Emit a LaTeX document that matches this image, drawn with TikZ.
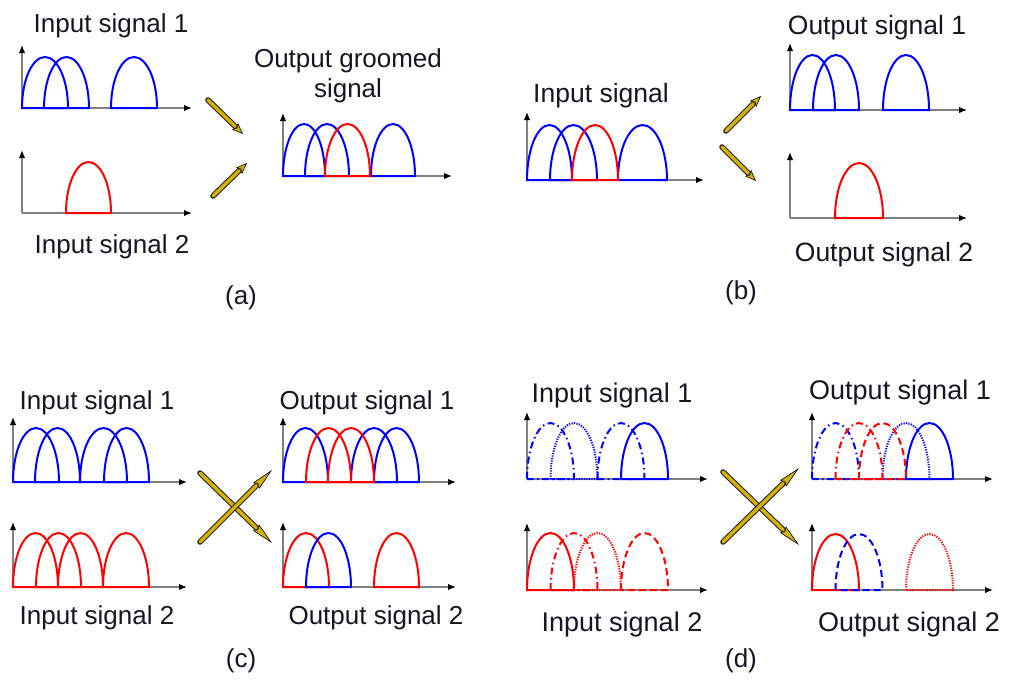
\documentclass[tikz,border=0pt]{standalone}
\usepackage{fontspec}
\setmainfont{Liberation Sans}
\usetikzlibrary{arrows.meta,calc}

\definecolor{gold}{RGB}{214,178,0}
\definecolor{axisgray}{RGB}{128,128,128}
\definecolor{inkblack}{RGB}{22,22,34}

% One spectral slot: half ellipse closed by its base line.
% [style]{left x}{right x}{base y}{top y}
\newcommand\signalarch[5][]{%
  \pgfmathsetmacro\sgL{#2}%
  \pgfmathsetmacro\sgR{#3}%
  \pgfmathsetmacro\sgC{(#2+#3)/2}%
  \pgfmathsetmacro\sgW{(#3-#2)/2*0.5523}%
  \pgfmathsetmacro\sgH{(#4-#5)*0.5523}%
  \draw[#1] (\sgL,#4) .. controls (\sgL,#4-\sgH) and (\sgC-\sgW,#5) .. (\sgC,#5)
    .. controls (\sgC+\sgW,#5) and (\sgR,#4-\sgH) .. (\sgR,#4) -- cycle;}

% Pair of axes: {name}{x}{y}{height}{length}
\newcommand\plotaxes[5]{%
  \coordinate (#1) at (#2,#3);
  \draw[axis] (#1) -- ++(0,-#4);
  \draw[axis] (#1) -- ++(#5,0);}

% Golden arrow between two named coordinates: {from}{to}{head length}
\newcommand\goldarrow[3]{%
  \draw[line width=0.6pt, draw=black,
        -{Stealth[length=#3, width=8.5pt, inset=1pt, fill=gold]}] ($(#1)!0.5!(#2)$) -- (#2);
  \draw[line width=5.6pt, draw=black!85, line cap=round, shorten >=#3] (#1) -- (#2);
  \draw[line width=3.4pt, draw=gold, line cap=round, shorten >=#3] (#1) -- (#2);}

\begin{document}
\begin{tikzpicture}[x=1pt, y=-1pt,
  axis/.style={draw=axisgray, line width=1.4pt, -{Latex[length=8pt, width=6.5pt, color=black]}},
  bl/.style={draw=blue, line width=2pt},
  rd/.style={draw=red, line width=2pt},
  dsh/.style={dash pattern=on 7pt off 4pt},
  dsd/.style={dash pattern=on 7pt off 3.5pt on 1.5pt off 3.5pt},
  dtt/.style={dash pattern=on 1.2pt off 1.3pt},
  lbl/.style={text=inkblack, inner sep=0pt, anchor=base, font=\fontsize{26}{30}\selectfont},
  lblb/.style={lbl, font=\fontsize{26.5}{30}\selectfont},
  lbld/.style={lbl, font=\fontsize{27}{30}\selectfont},
  tag/.style={text=inkblack, inner sep=0pt, font=\fontsize{26}{30}\selectfont}]

\useasboundingbox (0,0) rectangle (1009,686);

% ---------------- (a) grooming ----------------
\plotaxes{aIn1}{22}{108}{63}{170}
\signalarch[bl]{22}{68}{108}{57}
\signalarch[bl]{44}{89}{108}{57}
\signalarch[bl]{111}{157}{108}{57}
\node[lbl] (aT1) at (111,32) {Input signal 1};

\plotaxes{aIn2}{22}{213}{63}{170}
\signalarch[rd]{66}{111}{213}{162}
\node[lbl] (aT2) at (112,253) {Input signal 2};

\plotaxes{aOut}{283}{176}{63}{169}
\signalarch[bl]{283}{325}{176}{124}
\signalarch[bl]{305}{349}{176}{124}
\signalarch[bl]{371}{415}{176}{124}
\signalarch[rd]{325}{370}{176}{124}
\node[lbl, align=center] (aT3) at (348,97) {Output groomed\\signal};

\coordinate (aA1s) at (208,100); \coordinate (aA1e) at (243,134);
\coordinate (aA2s) at (213,196); \coordinate (aA2e) at (247,163);
\goldarrow{aA1s}{aA1e}{11pt}
\goldarrow{aA2s}{aA2e}{11pt}
\node[tag] (aTag) at (241,298) {(a)};

% ---------------- (b) de-grooming ----------------
\plotaxes{bIn}{527}{180}{68}{177}
\signalarch[bl]{527}{572}{180}{125}
\signalarch[bl]{550}{597}{180}{125}
\signalarch[bl]{618}{667}{180}{125}
\signalarch[rd]{572}{618}{180}{125}
\node[lblb] (bT1) at (601,102) {Input signal};

\plotaxes{bOut1}{790}{110}{67}{177}
\signalarch[bl]{790}{835}{110}{55}
\signalarch[bl]{813}{859}{110}{55}
\signalarch[bl]{883}{929}{110}{55}
\node[lblb] (bT2) at (877,34) {Output signal 1};

\plotaxes{bOut2}{790}{218}{66}{177}
\signalarch[rd]{835}{883}{218}{163}
\node[lblb] (bT3) at (884,261) {Output signal 2};

\coordinate (bA1s) at (726,131); \coordinate (bA1e) at (761,96);
\coordinate (bA2s) at (722,147); \coordinate (bA2e) at (756,181);
\goldarrow{bA1s}{bA1e}{11pt}
\goldarrow{bA2s}{bA2e}{11pt}
\node[tag] (bTag) at (741,293) {(b)};

% ---------------- (c) switching ----------------
\plotaxes{cIn1}{13}{482}{65}{174}
\signalarch[bl]{13}{59}{482}{428}
\signalarch[bl]{35}{80}{482}{428}
\signalarch[bl]{80}{127}{482}{428}
\signalarch[bl]{104}{149}{482}{428}
\node[lbl] (cT1) at (97,409) {Input signal 1};

\plotaxes{cIn2}{13}{587}{65}{174}
\signalarch[rd]{13}{58}{587}{533}
\signalarch[rd]{36}{81}{587}{533}
\signalarch[rd]{58}{103}{587}{533}
\signalarch[rd]{103}{149}{587}{533}
\node[lbl] (cT2) at (97,624) {Input signal 2};

\plotaxes{cOut1}{283}{482}{65}{173}
\signalarch[bl]{283}{328}{482}{428}
\signalarch[bl]{351}{397}{482}{428}
\signalarch[bl]{374}{419}{482}{428}
\signalarch[rd]{306}{351}{482}{428}
\signalarch[rd]{328}{374}{482}{428}
\node[lbl] (cT3) at (367,409) {Output signal 1};

\plotaxes{cOut2}{283}{587}{65}{173}
\signalarch[rd]{283}{329}{587}{533}
\signalarch[rd]{374}{419}{587}{533}
\signalarch[bl]{306}{351}{587}{533}
\node[lbl] (cT4) at (376,624) {Output signal 2};

\coordinate (cX1s) at (200,473); \coordinate (cX1e) at (272,543);
\coordinate (cX2s) at (200,542); \coordinate (cX2e) at (272,470);
\goldarrow{cX1s}{cX1e}{22pt}
\goldarrow{cX2s}{cX2e}{22pt}
\node[tag] (cTag) at (241,661) {(c)};

% ---------------- (d) switching with individual channels ----------------
\plotaxes{dIn1}{527}{479}{67}{181}
\signalarch[bl,dsd]{527}{574}{479}{423}
\signalarch[bl,dtt]{550.5}{597.5}{479}{423}
\signalarch[bl,dsd]{597.5}{644.5}{479}{423}
\signalarch[bl]{621}{668}{479}{423}
\node[lbld] (dT1) at (612,402) {Input signal 1};

\plotaxes{dIn2}{527}{590}{67}{181}
\signalarch[rd]{527}{574}{590}{533}
\signalarch[rd,dsd]{550.5}{597.5}{590}{533}
\signalarch[rd,dtt]{574}{621}{590}{533}
\signalarch[rd,dsh]{621}{668}{590}{533}
\node[lbld] (dT2) at (622,631) {Input signal 2};

\plotaxes{dOut1}{812}{479}{67}{181}
\signalarch[bl,dsd]{812}{859}{479}{423}
\signalarch[bl,dtt]{882.5}{929.5}{479}{423}
\signalarch[bl]{906}{953}{479}{423}
\signalarch[rd,dsd]{835.5}{882.5}{479}{423}
\signalarch[rd,dsh]{859}{906}{479}{423}
\node[lbld] (dT3) at (900,399) {Output signal 1};

\plotaxes{dOut2}{812}{590}{67}{181}
\signalarch[rd]{812}{859}{590}{534}
\signalarch[rd,dtt]{906}{953}{590}{534}
\signalarch[bl,dsh]{835.5}{882.5}{590}{534}
\node[lbld] (dT4) at (909,631) {Output signal 2};

\coordinate (dX1s) at (723,472); \coordinate (dX1e) at (799,545);
\coordinate (dX2s) at (723,542); \coordinate (dX2e) at (799,468);
\goldarrow{dX1s}{dX1e}{22pt}
\goldarrow{dX2s}{dX2e}{22pt}
\node[tag] (dTag) at (741,661) {(d)};

\end{tikzpicture}
\end{document}
